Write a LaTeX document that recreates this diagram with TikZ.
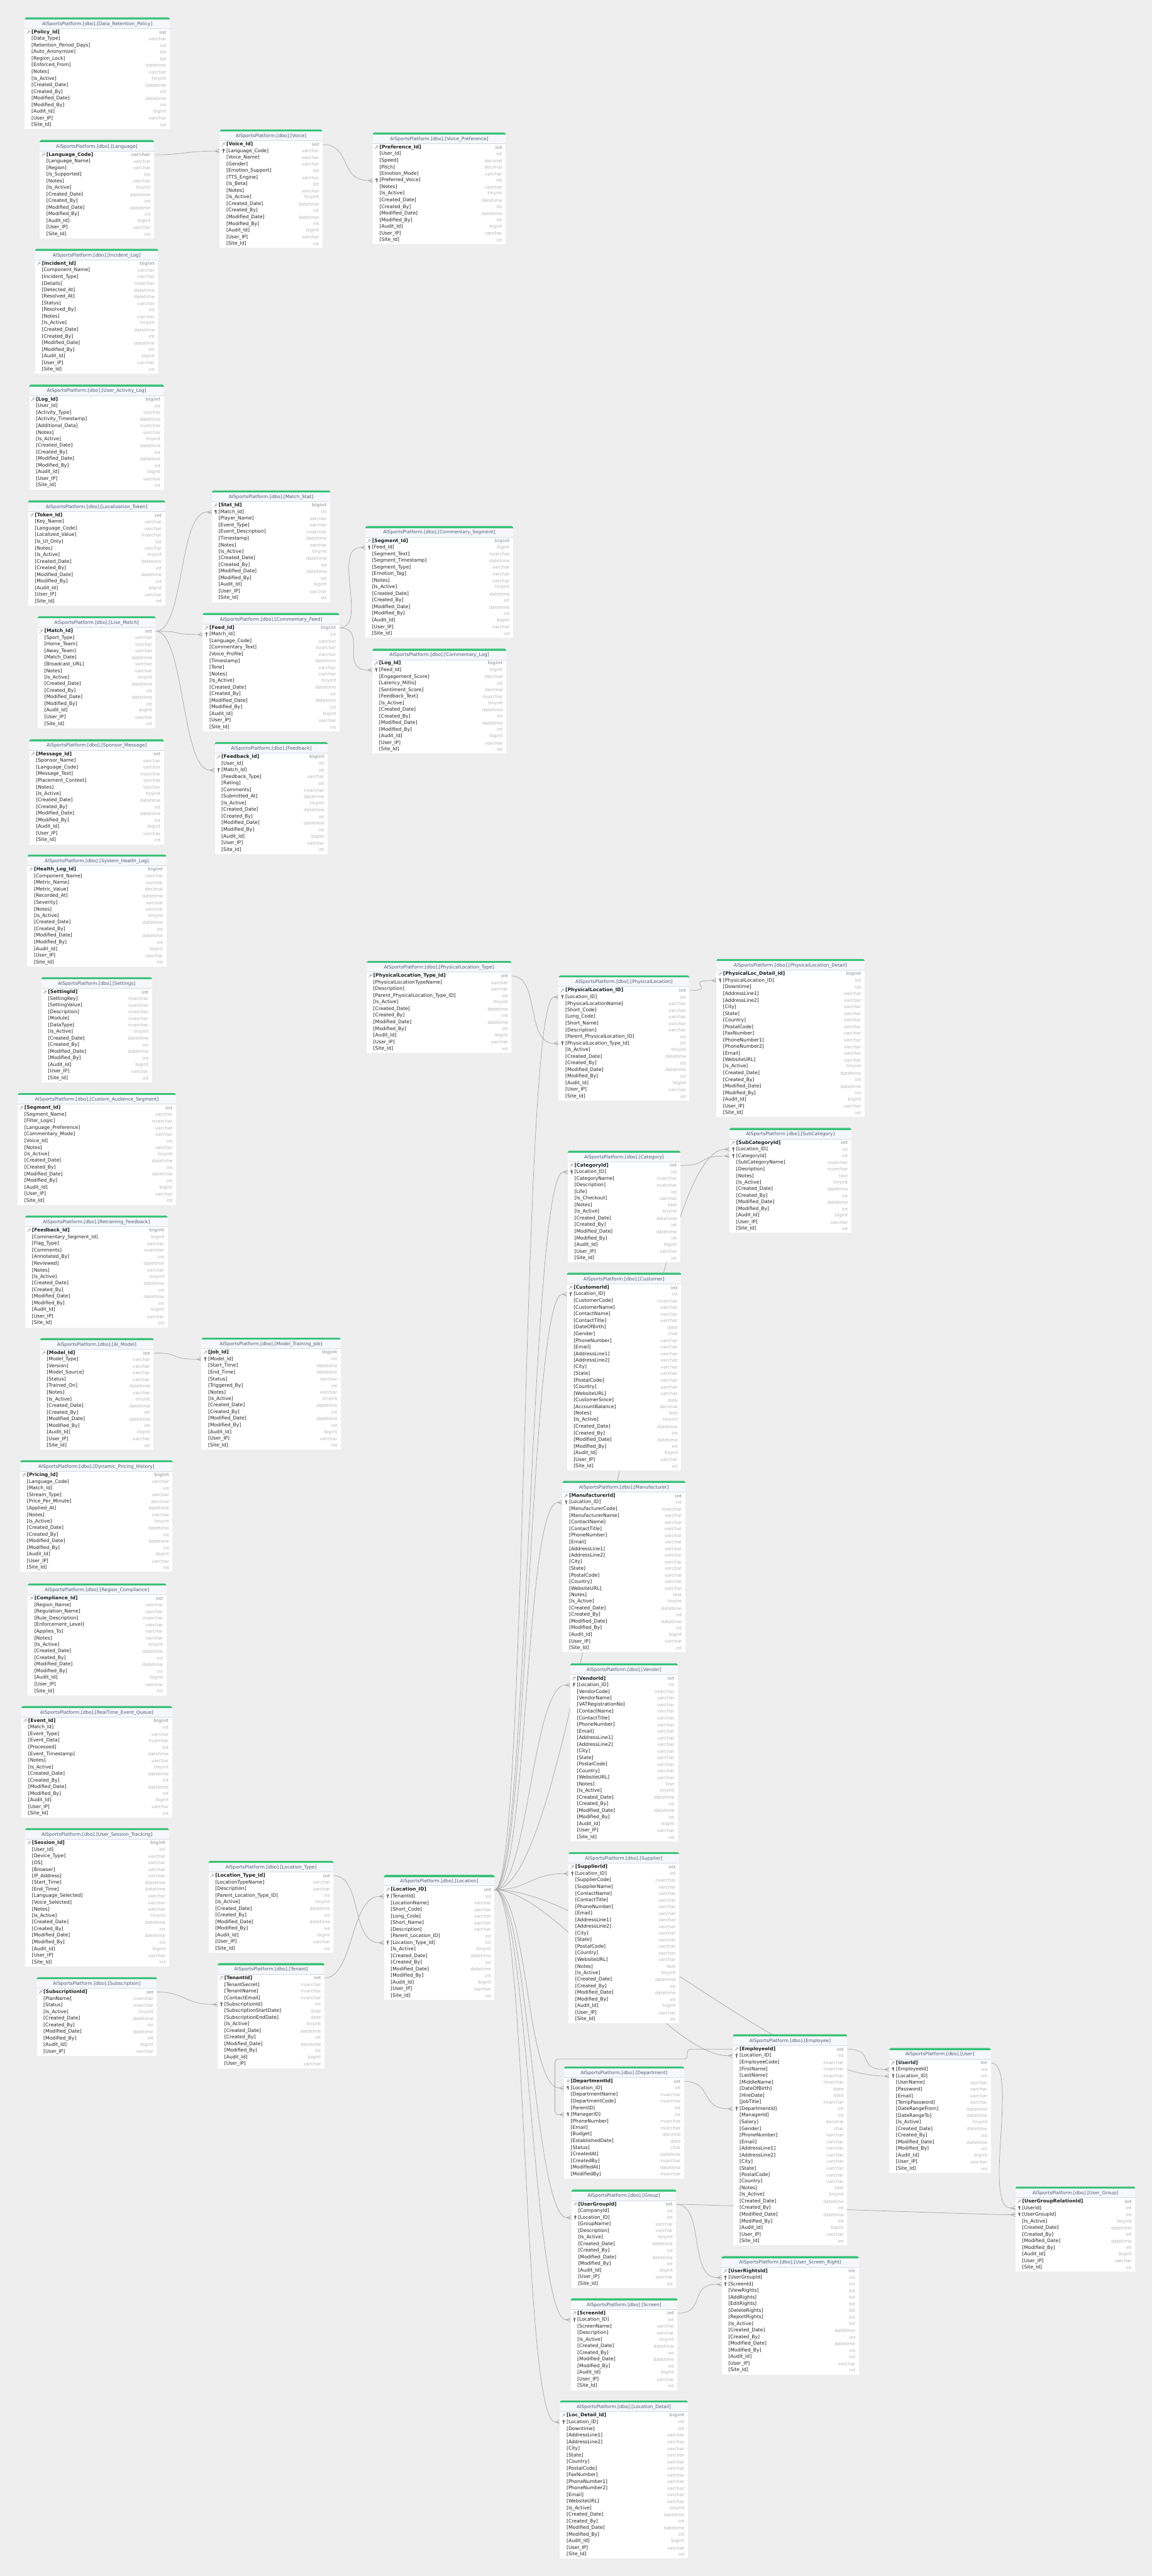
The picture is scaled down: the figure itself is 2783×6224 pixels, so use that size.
\documentclass[tikz,border=0pt]{standalone}
\usepackage{fontspec}
\setmainfont{DejaVu Sans}
\usetikzlibrary{calc}
\definecolor{bgc}{HTML}{EEEEEE}
\definecolor{grn}{HTML}{3CC27A}
\definecolor{hdr}{HTML}{F5F7FA}
\definecolor{sepc}{HTML}{D3DAE5}
\definecolor{ttl}{HTML}{4B5B78}
\definecolor{rowtxt}{HTML}{1E1E1E}
\definecolor{typtxt}{HTML}{B4B4B4}
\definecolor{lnc}{HTML}{A8A8A8}
\definecolor{icok}{HTML}{9A9A9A}
\definecolor{icof}{HTML}{333333}
\pgfdeclarelayer{back}\pgfdeclarelayer{lines}
\pgfsetlayers{back,lines,main}
\newcount\rowcnt
\tikzset{
  rowbox/.style={inner sep=0pt, minimum height=16pt, draw=none},
  rowname/.style={inner sep=0pt, anchor=west, text=rowtxt, font=\fontsize{11.6}{13}\selectfont},
  rowtype/.style={inner sep=0pt, anchor=east, text=typtxt, font=\fontsize{11}{13}\selectfont},
  tbltitle/.style={inner sep=0pt, text=ttl, font=\fontsize{11.3}{13}\selectfont},
  conn/.style={draw=lnc, line width=1.1pt},
  keyicon/.style={draw=icok, line width=0.9pt},
  fkicon/.style={draw=icof, line width=1pt},
}
\newcommand{\dbtable}[6]{%
  \edef\rowlist{#6}%
  \global\rowcnt=0
  \foreach \a in \rowlist {\global\advance\rowcnt by 1}%
  \pgfmathsetmacro{\tbot}{#3+30+16*\the\rowcnt}%
  \fill[white] (#2,#3) rectangle (#2+#4,\tbot);
  \fill[grn, rounded corners=4pt] (#2,#3) rectangle (#2+#4,#3+10);
  \fill[hdr] (#2,#3+5) rectangle (#2+#4,#3+27);
  \draw[sepc, line width=1.5pt] (#2,#3+27) -- (#2+#4,#3+27);
  \node[tbltitle] (#1-t) at (#2+#4/2,#3+16) {AISportsPlatform.[dbo].[#5]};
  \foreach \fl/\nm/\ty [count=\i] in \rowlist {%
    \pgfmathsetmacro{\ry}{#3+36+16*(\i-1)}%
    \node[rowbox, minimum width=#4pt] (#1-\i) at (#2+#4/2,\ry) {};
    \node[rowname] (#1-\i-n) at (#2+16,\ry) {\if k\fl\bfseries\fi[\nm]};
    \node[rowtype] (#1-\i-y) at (#2+#4-8,\ry) {\if k\fl\bfseries\fi\ty};
    \if k\fl
      \draw[keyicon] (#2+10.5,\ry-2) circle (2.4pt);
      \draw[keyicon] (#2+8.8,\ry-0.3) -- (#2+4.5,\ry+4);
    \fi
    \if f\fl
      \draw[fkicon] (#2+9,\ry-2.6) circle (2.2pt);
      \draw[fkicon] (#2+9,\ry-0.4) -- (#2+9,\ry+4.5);
    \fi
  }%
}
\newcommand{\crow}[1]{%
  \draw[conn] ([xshift=-11pt]#1.west) -- ([yshift=5pt]#1.west);
  \draw[conn] ([xshift=-11pt]#1.west) -- ([yshift=-5pt]#1.west);
  \draw[conn] ([xshift=-11pt]#1.west) -- (#1.west);
}
\newcommand{\rel}[3][70]{%
  \draw[conn] (#2.east) .. controls +(#1,0) and +(-#1,0) .. ([xshift=-11pt]#3.west);
  \crow{#3}%
}
\begin{document}
\catcode`\_=12
\def\stdtail{n/Is_Active/tinyint,n/Created_Date/datetime,n/Created_By/int,n/Modified_Date/datetime,n/Modified_By/int,n/Audit_Id/bigint,n/User_IP/varchar,n/Site_Id/int}
\def\nstd{n/Notes/varchar,\stdtail}
\def\addr{n/AddressLine1/varchar,n/AddressLine2/varchar,n/City/varchar,n/State/varchar}
\begin{tikzpicture}[x=1pt,y=-1pt]
\useasboundingbox (0,0) rectangle (2783,6224);
\begin{pgfonlayer}{back}
\fill[bgc] (0,0) rectangle (2783,6224);
\end{pgfonlayer}
% ---------- column 1
\dbtable{dr}{60}{42}{350}{Data_Retention_Policy}{k/Policy_Id/int,n/Data_Type/varchar,n/Retention_Period_Days/int,n/Auto_Anonymize/bit,n/Region_Lock/bit,n/Enforced_From/datetime,\nstd}
\dbtable{lang}{96}{338}{276}{Language}{k/Language_Code/varchar,n/Language_Name/varchar,n/Region/varchar,n/Is_Supported/bit,\nstd}
\dbtable{inc}{85}{601}{297}{Incident_Log}{k/Incident_Id/bigint,n/Component_Name/varchar,n/Incident_Type/varchar,n/Details/nvarchar,n/Detected_At/datetime,n/Resolved_At/datetime,n/Status/varchar,n/Resolved_By/int,\nstd}
\dbtable{ual}{71}{929}{325}{User_Activity_Log}{k/Log_Id/bigint,n/User_Id/int,n/Activity_Type/varchar,n/Activity_Timestamp/datetime,n/Additional_Data/nvarchar,\nstd}
\dbtable{loct}{68}{1209}{331}{Localization_Token}{k/Token_Id/int,n/Key_Name/varchar,n/Language_Code/varchar,n/Localized_Value/nvarchar,n/Is_UI_Only/bit,\nstd}
\dbtable{live}{91}{1489}{285}{Live_Match}{k/Match_Id/int,n/Sport_Type/varchar,n/Home_Team/varchar,n/Away_Team/varchar,n/Match_Date/datetime,n/Broadcast_URL/varchar,\nstd}
\dbtable{spon}{71}{1786}{325}{Sponsor_Message}{k/Message_Id/int,n/Sponsor_Name/varchar,n/Language_Code/varchar,n/Message_Text/nvarchar,n/Placement_Context/varchar,\nstd}
\dbtable{shl}{66}{2065}{336}{System_Health_Log}{k/Health_Log_Id/bigint,n/Component_Name/varchar,n/Metric_Name/varchar,n/Metric_Value/decimal,n/Recorded_At/datetime,n/Severity/varchar,\nstd}
\dbtable{set}{100}{2361}{267}{Settings}{k/SettingId/int,n/SettingKey/nvarchar,n/SettingValue/nvarchar,n/Description/nvarchar,n/Module/nvarchar,n/DataType/nvarchar,\stdtail}
\dbtable{cas}{43}{2641}{382}{Custom_Audience_Segment}{k/Segment_Id/int,n/Segment_Name/varchar,n/Filter_Logic/nvarchar,n/Language_Preference/varchar,n/Commentary_Mode/varchar,n/Voice_Id/int,\nstd}
\dbtable{rf}{61}{2937}{344}{Retraining_Feedback}{k/Feedback_Id/bigint,n/Commentary_Segment_Id/bigint,n/Flag_Type/varchar,n/Comments/nvarchar,n/Annotated_By/int,n/Reviewed/datetime,\nstd}
\dbtable{aim}{97}{3233}{274}{AI_Model}{k/Model_Id/int,n/Model_Type/varchar,n/Version/varchar,n/Model_Source/varchar,n/Status/varchar,n/Trained_On/datetime,\nstd}
\dbtable{dph}{49}{3528}{368}{Dynamic_Pricing_History}{k/Pricing_Id/bigint,n/Language_Code/varchar,n/Match_Id/int,n/Stream_Type/varchar,n/Price_Per_Minute/decimal,n/Applied_At/datetime,\nstd}
\dbtable{rc}{67}{3826}{335}{Region_Compliance}{k/Compliance_Id/int,n/Region_Name/varchar,n/Regulation_Name/varchar,n/Rule_Description/nvarchar,n/Enforcement_Level/varchar,n/Applies_To/varchar,\nstd}
\dbtable{rteq}{52}{4122}{364}{RealTime_Event_Queue}{k/Event_Id/bigint,n/Match_Id/int,n/Event_Type/varchar,n/Event_Data/nvarchar,n/Processed/bit,n/Event_Timestamp/datetime,\nstd}
\dbtable{ust}{61}{4417}{347}{User_Session_Tracking}{k/Session_Id/bigint,n/User_Id/int,n/Device_Type/varchar,n/OS/varchar,n/Browser/varchar,n/IP_Address/varchar,n/Start_Time/datetime,n/End_Time/datetime,n/Language_Selected/varchar,n/Voice_Selected/varchar,\nstd}
\dbtable{sub}{89}{4777}{290}{Subscription}{k/SubscriptionId/int,n/PlanName/nvarchar,n/Status/nvarchar,n/Is_Active/tinyint,n/Created_Date/datetime,n/Created_By/int,n/Modified_Date/datetime,n/Modified_By/int,n/Audit_Id/bigint,n/User_IP/varchar}
% ---------- column 2
\dbtable{voice}{531}{313}{248}{Voice}{k/Voice_Id/int,f/Language_Code/varchar,n/Voice_Name/varchar,n/Gender/varchar,n/Emotion_Support/bit,n/TTS_Engine/varchar,n/Is_Beta/bit,\nstd}
\dbtable{mstat}{512}{1185}{286}{Match_Stat}{k/Stat_Id/bigint,f/Match_Id/int,n/Player_Name/varchar,n/Event_Type/varchar,n/Event_Description/nvarchar,n/Timestamp/datetime,\nstd}
\dbtable{cfeed}{490}{1481}{330}{Commentary_Feed}{k/Feed_Id/bigint,f/Match_Id/int,n/Language_Code/varchar,n/Commentary_Text/nvarchar,n/Voice_Profile/varchar,n/Timestamp/datetime,n/Tone/varchar,\nstd}
\dbtable{fb}{519}{1793}{273}{Feedback}{k/Feedback_Id/bigint,n/User_Id/int,f/Match_Id/int,n/Feedback_Type/varchar,n/Rating/int,n/Comments/nvarchar,n/Submitted_At/datetime,\stdtail}
\dbtable{mtj}{487}{3232}{336}{Model_Training_Job}{k/Job_Id/bigint,f/Model_Id/int,n/Start_Time/datetime,n/End_Time/datetime,n/Status/varchar,n/Triggered_By/int,\nstd}
\dbtable{ltype}{504}{4496}{302}{Location_Type}{k/Location_Type_Id/int,n/LocationTypeName/varchar,n/Description/varchar,n/Parent_Location_Type_ID/int,\stdtail}
\dbtable{ten}{526}{4743}{258}{Tenant}{k/TenantId/int,n/TenantSecret/nvarchar,n/TenantName/nvarchar,n/ContactEmail/nvarchar,f/SubscriptionId/int,n/SubscriptionStartDate/date,n/SubscriptionEndDate/date,n/Is_Active/tinyint,n/Created_Date/datetime,n/Created_By/int,n/Modified_Date/datetime,n/Modified_By/int,n/Audit_Id/bigint,n/User_IP/varchar}
% ---------- column 3
\dbtable{vpref}{901}{320}{321}{Voice_Preference}{k/Preference_Id/int,n/User_Id/int,n/Speed/decimal,n/Pitch/decimal,n/Emotion_Mode/varchar,f/Preferred_Voice/int,\nstd}
\dbtable{cseg}{883}{1271}{357}{Commentary_Segment}{k/Segment_Id/bigint,f/Feed_Id/bigint,n/Segment_Text/nvarchar,n/Segment_Timestamp/datetime,n/Segment_Type/varchar,n/Emotion_Tag/varchar,\nstd}
\dbtable{clog}{900}{1567}{323}{Commentary_Log}{k/Log_Id/bigint,f/Feed_Id/bigint,n/Engagement_Score/decimal,n/Latency_Millis/int,n/Sentiment_Score/decimal,n/Feedback_Text/nvarchar,\stdtail}
\dbtable{plt}{886}{2322}{350}{PhysicalLocation_Type}{k/PhysicalLocation_Type_Id/int,n/PhysicalLocationTypeName/varchar,n/Description/varchar,n/Parent_PhysicalLocation_Type_ID/int,\stdtail}
\dbtable{loc}{928}{4530}{267}{Location}{k/Location_ID/int,f/TenantId/int,n/LocationName/varchar,n/Short_Code/varchar,n/Long_Code/varchar,n/Short_Name/varchar,n/Description/varchar,n/Parent_Location_ID/int,f/Location_Type_Id/int,\stdtail}
% ---------- column 4
\dbtable{pl}{1350}{2357}{316}{PhysicalLocation}{k/PhysicalLocation_ID/int,f/Location_ID/int,n/PhysicalLocationName/varchar,n/Short_Code/varchar,n/Long_Code/varchar,n/Short_Name/varchar,n/Description/varchar,n/Parent_PhysicalLocation_ID/int,f/PhysicalLocation_Type_Id/int,\stdtail}
\dbtable{cat}{1372}{2780}{272}{Category}{k/CategoryId/int,f/Location_ID/int,n/CategoryName/nvarchar,n/Description/nvarchar,n/Life/int,n/Is_Checkout/varchar,n/Notes/text,\stdtail}
\dbtable{cust}{1370}{3075}{276}{Customer}{k/CustomerId/int,f/Location_ID/int,n/CustomerCode/nvarchar,n/CustomerName/varchar,n/ContactName/varchar,n/ContactTitle/varchar,n/DateOfBirth/date,n/Gender/char,n/PhoneNumber/varchar,n/Email/varchar,\addr,n/PostalCode/varchar,n/Country/varchar,n/WebsiteURL/varchar,n/CustomerSince/date,n/AccountBalance/decimal,n/Notes/text,\stdtail}
\dbtable{man}{1359}{3578}{297}{Manufacturer}{k/ManufacturerId/int,f/Location_ID/int,n/ManufacturerCode/nvarchar,n/ManufacturerName/varchar,n/ContactName/varchar,n/ContactTitle/varchar,n/PhoneNumber/varchar,n/Email/varchar,\addr,n/PostalCode/varchar,n/Country/varchar,n/WebsiteURL/varchar,n/Notes/text,\stdtail}
\dbtable{ven}{1378}{4019}{260}{Vendor}{k/VendorId/int,f/Location_ID/int,n/VendorCode/nvarchar,n/VendorName/varchar,n/VATRegistrationNo/varchar,n/ContactName/varchar,n/ContactTitle/varchar,n/PhoneNumber/varchar,n/Email/varchar,\addr,n/PostalCode/varchar,n/Country/varchar,n/WebsiteURL/varchar,n/Notes/text,\stdtail}
\dbtable{sup}{1374}{4475}{267}{Supplier}{k/SupplierId/int,f/Location_ID/int,n/SupplierCode/nvarchar,n/SupplierName/varchar,n/ContactName/varchar,n/ContactTitle/varchar,n/PhoneNumber/varchar,n/Email/varchar,\addr,n/PostalCode/varchar,n/Country/varchar,n/WebsiteURL/varchar,n/Notes/text,\stdtail}
\dbtable{dep}{1363}{4993}{290}{Department}{k/DepartmentId/int,f/Location_ID/int,n/DepartmentName/nvarchar,n/DepartmentCode/nvarchar,n/ParentID/int,f/ManagerID/int,n/PhoneNumber/nvarchar,n/Email/nvarchar,n/Budget/decimal,n/EstablishedDate/date,n/Status/char,n/CreatedAt/datetime,n/CreatedBy/nvarchar,n/ModifiedAt/datetime,n/ModifiedBy/nvarchar}
\dbtable{grp}{1381}{5290}{253}{Group}{k/UserGroupId/int,n/CompanyId/int,f/Location_ID/int,n/GroupName/varchar,n/Description/varchar,\stdtail}
\dbtable{scr}{1379}{5553}{258}{Screen}{k/ScreenId/int,f/Location_ID/int,n/ScreenName/varchar,n/Description/varchar,\stdtail}
\dbtable{ldet}{1353}{5800}{309}{Location_Detail}{k/Loc_Detail_Id/bigint,f/Location_ID/int,n/Downtime/bit,\addr,n/Country/varchar,n/PostalCode/varchar,n/FaxNumber/varchar,n/PhoneNumber1/varchar,n/PhoneNumber2/varchar,n/Email/varchar,n/WebsiteURL/varchar,\stdtail}
% ---------- column 5
\dbtable{pld}{1731}{2317}{358}{PhysicalLocation_Detail}{k/PhysicalLoc_Detail_Id/bigint,f/PhysicalLocation_ID/int,n/Downtime/bit,\addr,n/Country/varchar,n/PostalCode/varchar,n/FaxNumber/varchar,n/PhoneNumber1/varchar,n/PhoneNumber2/varchar,n/Email/varchar,n/WebsiteURL/varchar,\stdtail}
\dbtable{subc}{1763}{2725}{294}{SubCategory}{k/SubCategoryId/int,f/Location_ID/int,f/CategoryId/int,n/SubCategoryName/nvarchar,n/Desription/nvarchar,n/Notes/text,\stdtail}
\dbtable{emp}{1771}{4915}{276}{Employee}{k/EmployeeId/int,f/Location_ID/int,n/EmployeeCode/nvarchar,n/FirstName/nvarchar,n/LastName/nvarchar,n/MiddleName/nvarchar,n/DateOfBirth/date,n/HireDate/date,n/JobTitle/nvarchar,f/DepartmentId/int,n/ManagerId/int,n/Salary/decimal,n/Gender/char,n/PhoneNumber/varchar,n/Email/varchar,\addr,n/PostalCode/varchar,n/Country/varchar,n/Notes/text,\stdtail}
\dbtable{usr}{1744}{5451}{331}{User_Screen_Right}{k/UserRightsId/int,f/UserGroupId/int,f/ScreenId/int,n/ViewRights/bit,n/AddRights/bit,n/EditRights/bit,n/DeleteRights/bit,n/ReportRights/bit,n/Is_Active/bit,n/Created_Date/datetime,n/Created_By/int,n/Modified_Date/datetime,n/Modified_By/int,n/Audit_Id/int,n/User_IP/varchar,n/Site_Id/int}
% ---------- column 6
\dbtable{user}{2149}{4948}{245}{User}{k/UserId/int,f/EmployeeId/int,f/Location_ID/int,n/UserName/varchar,n/Password/varchar,n/Email/varchar,n/TempPassword/varchar,n/DateRangeFrom/datetime,n/DateRangeTo/datetime,\stdtail}
\dbtable{ug}{2454}{5283}{289}{User_Group}{k/UserGroupRelationId/int,f/UserId/int,f/UserGroupId/int,\stdtail}
% ---------- connectors
\begin{pgfonlayer}{lines}
\rel{lang-1}{voice-2}
\rel{voice-1}{vpref-6}
\rel{live-1}{mstat-2}
\rel{live-1}{cfeed-2}
\rel{live-1}{fb-3}
\rel{cfeed-1}{cseg-2}
\rel{cfeed-1}{clog-2}
\rel{aim-1}{mtj-2}
\rel{sub-1}{ten-5}
\rel{ltype-1}{loc-9}
\rel{ten-1}{loc-2}
\rel{plt-1}{pl-9}
\rel{pl-1}{pld-2}
\rel{cat-1}{subc-3}
\rel[80]{loc-1}{pl-2}
\rel[80]{loc-1}{cat-2}
\rel[200]{loc-1}{subc-2}
\rel[80]{loc-1}{cust-2}
\rel[80]{loc-1}{man-2}
\rel[80]{loc-1}{ven-2}
\rel[80]{loc-1}{sup-2}
\rel[80]{loc-1}{dep-2}
\rel[80]{loc-1}{grp-3}
\rel[80]{loc-1}{scr-2}
\rel[80]{loc-1}{ldet-2}
\rel[150]{loc-1}{emp-2}
\rel[250]{loc-1}{user-3}
\rel{dep-1}{emp-10}
\rel{grp-1}{ug-3}
\rel{grp-1}{usr-2}
\rel{scr-1}{usr-3}
\rel{user-1}{ug-2}
\rel{emp-1}{user-2}
\draw[conn, rounded corners=8pt] (emp-1.west) -- ++(-110,0) -- ++(0,24) -| ([xshift=-22pt]dep-6.west) -- ([xshift=-11pt]dep-6.west);
\crow{dep-6}
\end{pgfonlayer}
\end{tikzpicture}
\end{document}
